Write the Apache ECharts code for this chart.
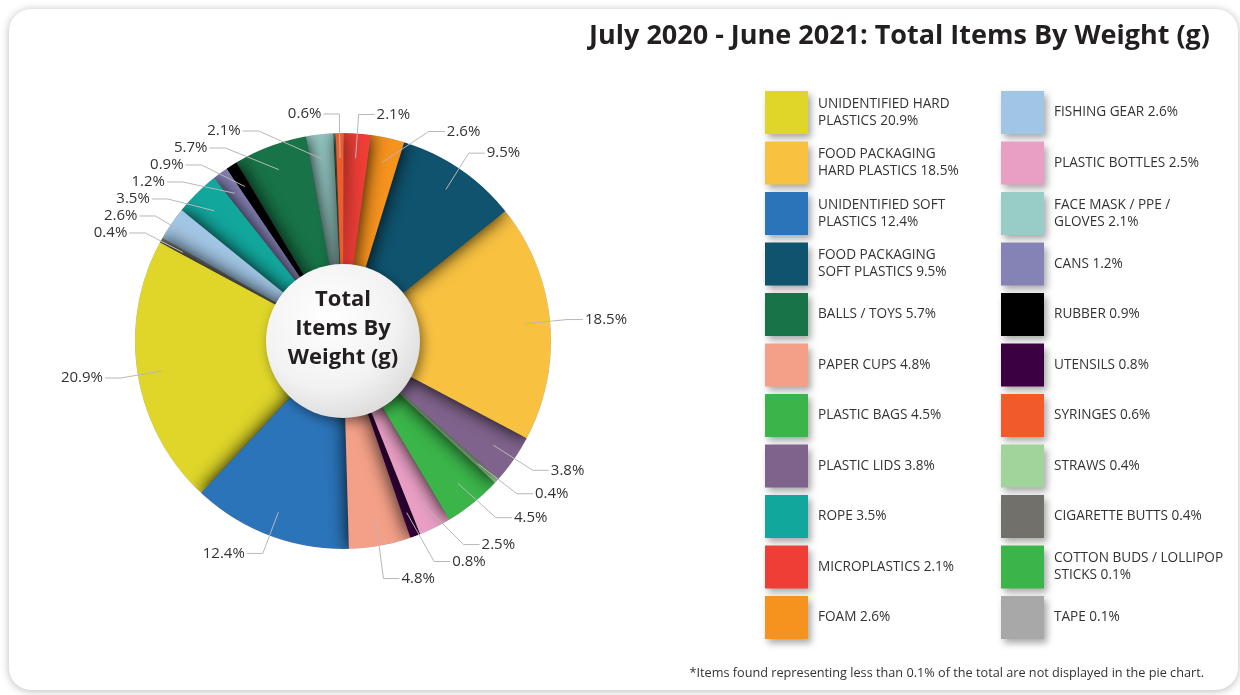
<!DOCTYPE html>
<html>
<head>
<meta charset="utf-8">
<script src="https://cdn.jsdelivr.net/npm/echarts@6/dist/echarts.min.js"></script>
<style>
  html, body { margin: 0; padding: 0; background: #fff; }
  #card {
    position: absolute; left: 9px; top: 9px; width: 1229px; height: 681px;
    border-radius: 22px; background: #fff;
    box-shadow: 0 1px 8px rgba(0, 0, 0, 0.28);
  }
  #chart { position: absolute; left: 0; top: 0; width: 1240px; height: 695px; }
</style>
</head>
<body>
<div id="card"></div>
<div id="chart"></div>
<script>
// slices in clockwise order, starting just left of 12 o'clock
const names = [
  'SYRINGES', 'MICROPLASTICS', 'FOAM', 'FOOD PACKAGING\nSOFT PLASTICS',
  'FOOD PACKAGING\nHARD PLASTICS', 'PLASTIC LIDS', 'STRAWS', 'PLASTIC BAGS',
  'PLASTIC BOTTLES', 'UTENSILS', 'PAPER CUPS', 'UNIDENTIFIED SOFT\nPLASTICS',
  'UNIDENTIFIED HARD\nPLASTICS', 'CIGARETTE BUTTS', 'FISHING GEAR', 'ROPE',
  'CANS', 'RUBBER', 'BALLS / TOYS', 'FACE MASK / PPE /\nGLOVES',
  'COTTON BUDS / LOLLIPOP\nSTICKS', 'TAPE'
]
const values = [0.6, 2.1, 2.6, 9.5, 18.5, 3.8, 0.4, 4.5, 2.5, 0.8, 4.8, 12.4, 20.9, 0.4, 2.6, 3.5, 1.2, 0.9, 5.7, 2.1, 0.1, 0.1]
const colors = [
  '#f15a29', '#ee3e36', '#f6921e', '#0f536e', '#f8c140', '#80638c', '#a0d49a', '#3bb54a',
  '#e99fc4', '#3b0041', '#f4a088', '#2b74b9', '#dfd629', '#72706b', '#a1c5e4', '#12a79d',
  '#8582b6', '#000000', '#187348', '#98ccc6', '#3bb54a', '#a8a8a8'
]
const unlabelled = ['COTTON BUDS / LOLLIPOP\nSTICKS', 'TAPE']

const legendLeft = [
  'UNIDENTIFIED HARD\nPLASTICS', 'FOOD PACKAGING\nHARD PLASTICS', 'UNIDENTIFIED SOFT\nPLASTICS',
  'FOOD PACKAGING\nSOFT PLASTICS', 'BALLS / TOYS', 'PAPER CUPS', 'PLASTIC BAGS',
  'PLASTIC LIDS', 'ROPE', 'MICROPLASTICS', 'FOAM'
]
const legendRight = [
  'FISHING GEAR', 'PLASTIC BOTTLES', 'FACE MASK / PPE /\nGLOVES', 'CANS', 'RUBBER',
  'UTENSILS', 'SYRINGES', 'STRAWS', 'CIGARETTE BUTTS', 'COTTON BUDS / LOLLIPOP\nSTICKS', 'TAPE'
]

const title = 'July 2020 - June 2021: Total Items By Weight (g)'
const footnote = '*Items found representing less than 0.1% of the total are not displayed in the pie chart.'
const centerText = 'Total\nItems By\nWeight (g)'

const FONT = '"Open Sans", Roboto, sans-serif'
const CENTER = [343, 341]
const R = 208

const slices = names.map((n, i) => ({ name: n, value: values[i], itemStyle: { color: colors[i] } }))
// drawn in reverse so each slice's shadow falls on the next slice clockwise
const drawSlices = slices.slice().reverse()

const labelSlices = names.map((n, i) => {
  const hide = unlabelled.includes(n)
  return {
    name: n,
    value: values[i],
    label: { show: !hide },
    labelLine: { show: !hide },
  }
})

function legendFormatter(name) {
  return name + ' ' + values[names.indexOf(name)] + '%'
}

function legendCol(left, data) {
  return {
    orient: 'vertical',
    left,
    top: 91,
    padding: 0,
    itemWidth: 43,
    itemHeight: 43,
    itemGap: 7.5,
    icon: 'rect',
    selectedMode: false,
    data,
    formatter: legendFormatter,
    itemStyle: {
      shadowBlur: 7,
      shadowColor: 'rgba(0,0,0,0.35)',
      shadowOffsetX: 3,
      shadowOffsetY: 4,
    },
    textStyle: {
      fontFamily: FONT,
      fontSize: 13.6,
      color: '#333',
      lineHeight: 17,
      padding: [0, 0, 0, 5],
    },
  }
}

const chart = echarts.init(document.getElementById('chart'), null, { renderer: 'canvas' })
chart.setOption({
  animation: false,
  title: [
    {
      text: title,
      right: 30,
      top: 23,
      padding: 0,
      textStyle: { fontFamily: FONT, fontWeight: 'bold', fontSize: 27, color: '#231f20' },
    },
    {
      text: footnote,
      right: 36,
      top: 667,
      padding: 0,
      textStyle: { fontFamily: FONT, fontWeight: 'normal', fontSize: 12.7, color: '#333' },
    },
  ],
  legend: [legendCol(765, legendLeft), legendCol(1001, legendRight)],
  series: [
    {
      type: 'pie',
      name: 'weight',
      center: CENTER,
      radius: [0, R],
      startAngle: 92,
      clockwise: false,
      silent: true,
      z: 2,
      data: drawSlices,
      label: { show: false },
      labelLine: { show: false },
      itemStyle: {
        borderWidth: 0,
        shadowBlur: 18,
        shadowColor: 'rgba(0,0,0,0.95)',
      },
    },
    {
      // white ring hiding the shadow halo outside the pie
      type: 'pie',
      name: 'mask',
      center: CENTER,
      radius: [R, R + 50],
      silent: true,
      z: 3,
      data: [{ name: 'mask', value: 1 }],
      itemStyle: { color: '#fff', borderWidth: 0 },
      label: { show: false },
      labelLine: { show: false },
    },
    {
      type: 'pie',
      name: 'labels',
      center: CENTER,
      radius: [0, R * 0.88],
      startAngle: 92,
      clockwise: true,
      silent: true,
      z: 4,
      data: labelSlices,
      itemStyle: { color: 'rgba(0,0,0,0)', borderWidth: 0 },
      label: {
        show: true,
        formatter: '{c}%',
        fontFamily: FONT,
        fontSize: 15,
        color: '#333',
        distanceToLabelLine: 2,
      },
      labelLine: {
        length: 44,
        length2: 16,
        lineStyle: { color: '#b8b8b8', width: 1 },
      },
    },
  ],
  graphic: [
    {
      type: 'circle',
      z: 100,
      shape: { cx: CENTER[0], cy: CENTER[1], r: 77 },
      style: {
        fill: new echarts.graphic.RadialGradient(0.4, 0.35, 0.75, [
          { offset: 0, color: '#ffffff' },
          { offset: 0.6, color: '#f2f2f2' },
          { offset: 1, color: '#d6d6d6' },
        ]),
        shadowBlur: 12,
        shadowColor: 'rgba(0,0,0,0.45)',
        shadowOffsetX: 3,
        shadowOffsetY: 4,
      },
    },
    {
      type: 'text',
      z: 101,
      style: {
        text: centerText,
        x: CENTER[0],
        y: CENTER[1] - 12,
        align: 'center',
        verticalAlign: 'middle',
        font: 'bold 22px ' + FONT,
        lineHeight: 29,
        fill: '#231f20',
      },
    },
  ],
})
</script>
</body>
</html>
